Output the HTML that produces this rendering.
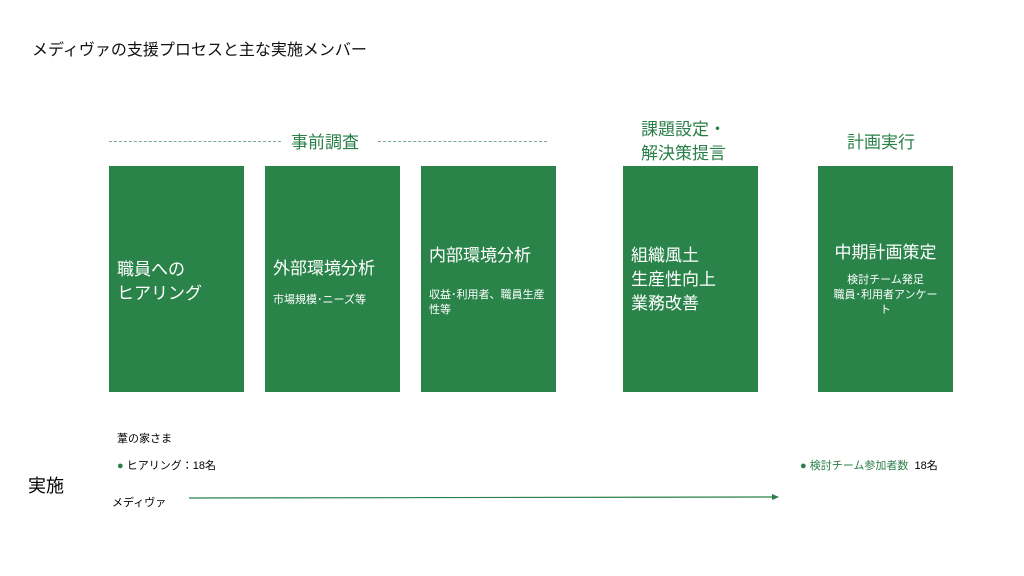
<!DOCTYPE html>
<html><head><meta charset="utf-8"><style>
body{margin:0;width:1024px;height:576px;background:#fff;position:relative;overflow:hidden;font-family:"Liberation Sans","Noto Sans CJK JP",sans-serif;}
.a{position:absolute;white-space:nowrap;}
.box{position:absolute;top:166px;height:226px;background:#2a844a;color:#fff;}
.g{color:#2a7f48;}
</style></head><body>
<div class="a" style="left:32px;top:36px;font-size:16px;color:#111;">メディヴァの支援プロセスと主な実施メンバー</div>
<div class="a" style="left:109px;top:141px;width:172px;border-top:1px dashed #7aa88a;"></div>
<div class="a" style="left:378px;top:141px;width:169px;border-top:1px dashed #7aa88a;"></div>
<div class="a g" style="left:291px;top:128px;font-size:17px;">事前調査</div>
<div class="a g" style="left:641px;top:118px;font-size:17px;line-height:24px;text-align:center;">課題設定・<br>解決策提言</div>
<div class="a g" style="left:847px;top:128px;font-size:17px;">計画実行</div>

<div class="box" style="left:109px;width:135px;"><div class="a" style="left:8px;top:92px;font-size:17px;line-height:24px;">職員への<br>ヒアリング</div></div>
<div class="box" style="left:265px;width:135px;"><div class="a" style="left:8px;top:88px;font-size:17px;">外部環境分析</div><div class="a" style="left:8px;top:125px;font-size:11px;">市場規模･ニーズ等</div></div>
<div class="box" style="left:421px;width:135px;"><div class="a" style="left:8px;top:75px;font-size:17px;">内部環境分析</div><div class="a" style="left:8px;top:122px;font-size:11px;line-height:15px;white-space:normal;width:120px;">収益･利用者、職員生産性等</div></div>
<div class="box" style="left:623px;width:135px;"><div class="a" style="left:8px;top:78px;font-size:17px;line-height:24px;">組織風土<br>生産性向上<br>業務改善</div></div>
<div class="box" style="left:818px;width:135px;"><div class="a" style="left:0;width:135px;text-align:center;top:72px;font-size:17px;">中期計画策定</div><div class="a" style="left:0;width:135px;text-align:center;top:107px;font-size:11px;line-height:15px;">検討チーム発足<br>職員･利用者アンケー<br>ト</div></div>

<div class="a" style="left:117px;top:430px;font-size:11px;">葦の家さま</div>
<div class="a" style="left:117px;top:457px;font-size:11px;"><span class="g">●</span> ヒアリング：18名</div>
<div class="a" style="left:28px;top:472px;font-size:18px;">実施</div>
<div class="a" style="left:112px;top:494px;font-size:11px;">メディヴァ</div>
<svg class="a" style="left:185px;top:492px;" width="600" height="12"><line x1="4" y1="6" x2="588" y2="5" stroke="#2a7f48" stroke-width="1.2"/><polygon points="594,5 587,2 587,8" fill="#2a7f48"/></svg>
<div class="a" style="left:800px;top:457px;font-size:11px;"><span class="g">● 検討チーム参加者数</span>&nbsp;&nbsp;18名</div>
</body></html>
